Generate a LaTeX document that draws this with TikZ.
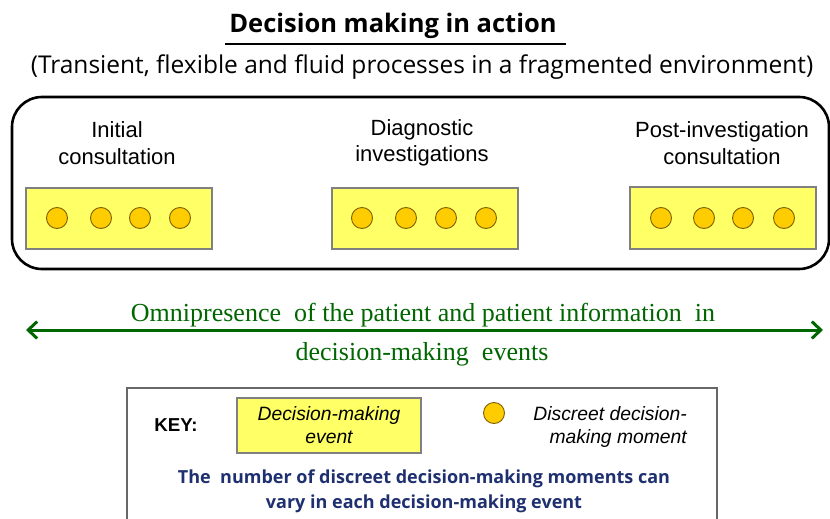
\documentclass[tikz,border=0pt]{standalone}
\usepackage{fontspec}
\setmainfont{Liberation Serif}
\setsansfont{Liberation Sans}
\newfontfamily\handfont{Open Sans}
\usetikzlibrary{arrows.meta}
\definecolor{evtfill}{HTML}{FFFF66}
\definecolor{evtline}{HTML}{808080}
\definecolor{dotfill}{HTML}{FFCC00}
\definecolor{dotline}{HTML}{7F6000}
\definecolor{omnigreen}{HTML}{006600}
\definecolor{notenavy}{HTML}{1F3070}
\tikzset{
  evt/.style={draw=evtline, line width=1.2pt, fill=evtfill},
  dot/.style={circle, draw=dotline, line width=0.9pt, fill=dotfill, minimum size=21pt, inner sep=0pt},
  phase/.style={font=\sffamily\fontsize{22}{26.5}\selectfont, align=center, inner sep=0pt},
  keytext/.style={font=\sffamily\itshape\fontsize{19.3}{23.5}\selectfont, inner sep=0pt},
}
\begin{document}
\begin{tikzpicture}[x=1pt,y=-1pt]
\useasboundingbox (0,0) rectangle (830,519);
\fill[white] (0,0) rectangle (830,519);

% heading
\node[font=\handfont\bfseries\fontsize{25.5}{30}\selectfont, inner sep=0pt] (title) at (393,26) {Decision making in action};
\draw[line width=1.2pt] (225,44) coordinate (ul1) -- (566,44) coordinate (ul2);
\node[font=\handfont\fontsize{24.5}{30}\selectfont, inner sep=0pt] (sub) at (422,67) {(Transient, flexible and fluid processes in a fragmented environment)};

% frame around the three phases
\draw[line width=2.6pt, rounded corners=30pt] (12,97) rectangle (829,269);

% phase labels
\node[phase] (l1) at (117,143) {Initial\\consultation};
\node[phase] (l2) at (422,143) {Diagnostic\\investigations};
\node[phase] (l3) at (722,143) {Post-investigation\\consultation};

% decision-making events
\draw[evt] (26,188) rectangle (212,249);
\draw[evt] (332,188) rectangle (518,249);
\draw[evt] (630,187) rectangle (816,249);

% decision-making moments
\foreach \x [count=\i] in {57,101,140,180} \node[dot] (a\i) at (\x,218) {};
\foreach \x [count=\i] in {362,406,446,486} \node[dot] (b\i) at (\x,218) {};
\foreach \x [count=\i] in {661,704,743,784} \node[dot] (c\i) at (\x,218) {};

% omnipresence arrow
\coordinate (arL) at (26,330);
\coordinate (arR) at (823,330);
\draw[omnigreen, line width=3pt, {Straight Barb[length=9pt,width=17pt]}-{Straight Barb[length=9pt,width=17pt]}] (arL) -- (arR);
\node[font=\fontsize{26}{30}\selectfont, text=omnigreen, inner sep=0pt] (om1) at (423,315) {Omnipresence\ \ of the patient and patient\ information\ \ in};
\node[font=\fontsize{26}{30}\selectfont, text=omnigreen, inner sep=0pt] (om2) at (422,354) {decision-making\ \ events};

% key
\draw[evtline!80!black, line width=1.2pt] (127,388) rectangle (717,530);
\node[font=\sffamily\bfseries\fontsize{18.7}{22}\selectfont, inner sep=0pt] (key) at (176,425) {KEY:};
\draw[evt] (237,398) rectangle (421,453);
\node[keytext, align=center] (kevt) at (329,425) {Decision-making\\event};
\node[dot] (kdot) at (494,413) {};
\node[keytext, align=right, anchor=east] (kmom) at (687,427) {Discreet decision-\\making moment};
\node[font=\handfont\bfseries\fontsize{18}{25}\selectfont, text=notenavy, align=center, inner sep=0pt] (note) at (424,491) {The\ \ number of discreet decision-making moments can\\vary in each decision-making event};
\end{tikzpicture}
\end{document}
